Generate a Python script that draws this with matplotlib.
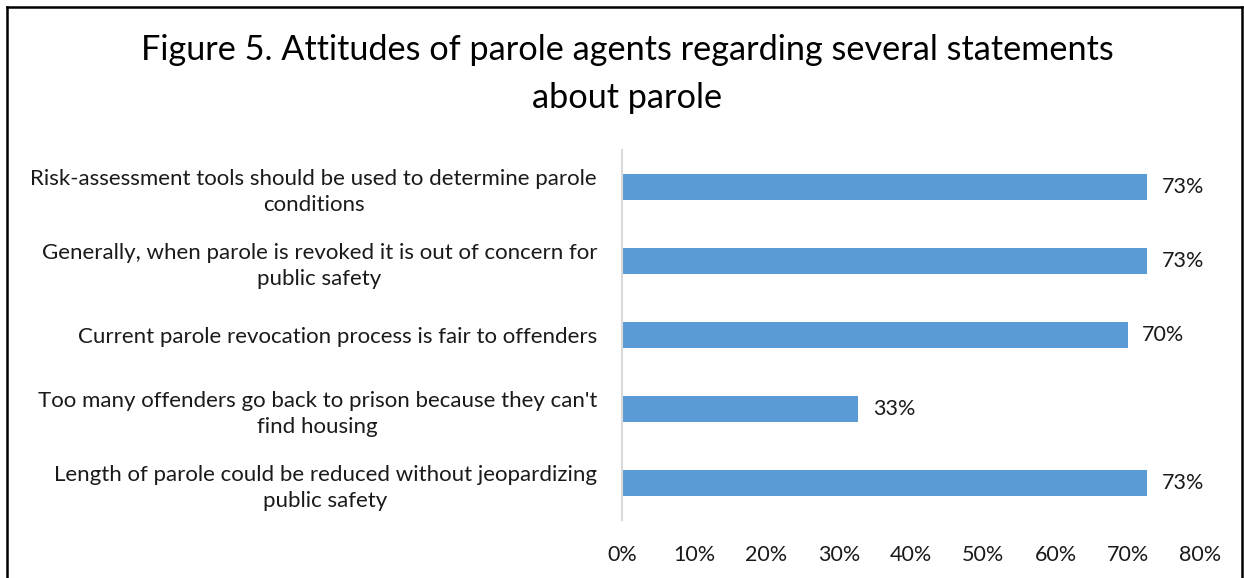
import matplotlib
matplotlib.use("Agg")
import matplotlib.pyplot as plt
from matplotlib.lines import Line2D
from matplotlib.ticker import PercentFormatter

# statements listed top to bottom
STATEMENTS = [
    "Risk-assessment tools should be used to determine parole\nconditions",
    "Generally, when parole is revoked it is out of concern for\npublic safety",
    "Current parole revocation process is fair to offenders",
    "Too many offenders go back to prison because they can't\nfind housing",
    "Length of parole could be reduced without jeopardizing\npublic safety",
]
SHARES = [72.7, 72.7, 70.0, 32.7, 72.7]
XTICKS = [0, 10, 20, 30, 40, 50, 60, 70, 80]

BAR_COLOR = "#5B9BD5"
W, H = 1244, 578

plt.rcParams["font.family"] = ["Lato", "DejaVu Sans"]

fig = plt.figure(figsize=(W / 100, H / 100), dpi=100, facecolor="white")
ax = fig.add_axes([622 / W, 1 - 520 / H, (1200 - 622) / W, (520 - 150) / H])

ypos = list(range(len(STATEMENTS)))[::-1]
bars = ax.barh(ypos, SHARES, height=0.35, color=BAR_COLOR)
for y, v in zip(ypos, SHARES):
    ax.text(v + 2.0, y, f"{v:.0f}%", va="center", ha="left", fontsize=15.5,
            color="#1a1a1a")

ax.set_xlim(0, 80)
ax.set_ylim(-0.5, 4.5)
ax.set_xticks(XTICKS)
ax.xaxis.set_major_formatter(PercentFormatter(decimals=0))
ax.set_yticks(ypos)
ax.set_yticklabels(STATEMENTS, multialignment="center", linespacing=1.4)
ax.tick_params(axis="y", length=0, pad=18, labelsize=16, labelcolor="#1a1a1a")
ax.tick_params(axis="x", length=0, pad=18, labelsize=15.5, labelcolor="#1a1a1a")
for s in ["top", "right", "bottom"]:
    ax.spines[s].set_visible(False)
ax.spines["left"].set_color("#D9D9D9")
ax.spines["left"].set_linewidth(1.5)

fig.text(627 / W, 1 - 74 / H,
         "Figure 5. Attitudes of parole agents regarding several statements\nabout parole",
         ha="center", va="center", fontsize=24.7, linespacing=1.6, color="black")

# chart frame
for xs, ys in [([7 / W, 7 / W], [0, 1 - 7 / H]),
               ([7 / W, 1242 / W], [1 - 7 / H, 1 - 7 / H]),
               ([1242 / W, 1242 / W], [0, 1 - 7 / H])]:
    fig.add_artist(Line2D(xs, ys, color="black", linewidth=1.8,
                          transform=fig.transFigure))

fig.savefig("out.png", dpi=100, facecolor="white")
